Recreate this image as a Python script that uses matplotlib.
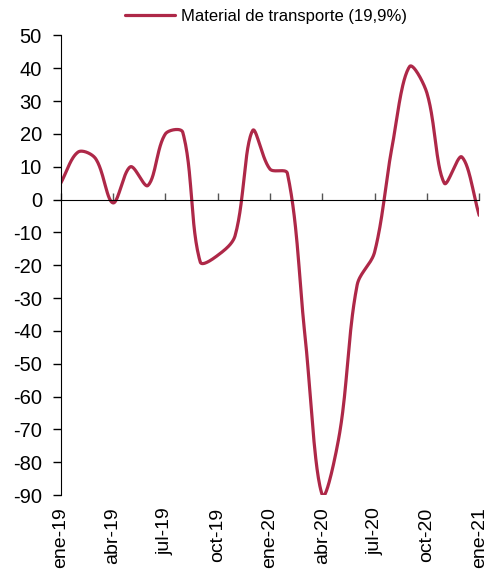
import numpy as np
import matplotlib
matplotlib.use('Agg')
import matplotlib.pyplot as plt

plt.rcParams['font.family'] = ['Liberation Sans', 'DejaVu Sans']
plt.rcParams['axes.unicode_minus'] = False

# monthly values, ene-19 .. ene-21
months = ['ene-19', 'feb-19', 'mar-19', 'abr-19', 'may-19', 'jun-19', 'jul-19',
          'ago-19', 'sep-19', 'oct-19', 'nov-19', 'dic-19', 'ene-20', 'feb-20',
          'mar-20', 'abr-20', 'may-20', 'jun-20', 'jul-20', 'ago-20', 'sep-20',
          'oct-20', 'nov-20', 'dic-20', 'ene-21']
values = [5, 14.5, 12.5, -1, 10, 4.3, 20, 20.5, -19, -17, -11, 21, 9.3, 8,
          -41, -90, -71, -26, -16, 16, 40.5, 32.5, 5, 13, -4.8]
tick_labels = ['ene-19', 'abr-19', 'jul-19', 'oct-19', 'ene-20',
               'abr-20', 'jul-20', 'oct-20', 'ene-21']
series_name = 'Material de transporte (19,9%)'
color = '#AE2848'


# smoothed line like Excel: bezier segments, tangents weighted by
# segment length measured on screen (sx, sy = pixels per unit)
def smooth(x, y, sx=17.42, sy=3.29, n=30):
    P = np.column_stack([np.asarray(x, float) * sx, np.asarray(y, float) * sy])
    P = np.vstack([P[0], P, P[-1]])
    out = []
    t = np.linspace(0, 1, n)[:, None]
    for i in range(1, len(P) - 2):
        p0, p1, p2, p3 = P[i - 1], P[i], P[i + 1], P[i + 2]
        d01 = np.hypot(*(p1 - p0))
        d12 = np.hypot(*(p2 - p1))
        d23 = np.hypot(*(p3 - p2))
        f1 = d12 / (d01 + d12) / 3 if d01 + d12 > 0 else 0
        f2 = d12 / (d12 + d23) / 3 if d12 + d23 > 0 else 0
        c1 = p1 + (p2 - p0) * f1
        c2 = p2 - (p3 - p1) * f2
        b = (1 - t) ** 3 * p1 + 3 * (1 - t) ** 2 * t * c1 + 3 * (1 - t) * t ** 2 * c2 + t ** 3 * p2
        out.append(b)
    out = np.vstack(out)
    return out[:, 0] / sx, out[:, 1] / sy


x = np.arange(len(months))
lx, ly = smooth(x, values)

fig = plt.figure(figsize=(4.88, 5.77), dpi=100)
ax = fig.add_axes([0.1244, 0.1421, 0.8576, 0.7964])

ax.plot(lx, ly, color=color, lw=2.3, label=series_name, solid_capstyle='round')

ax.set_xlim(0, len(months) - 1)
ax.set_ylim(-90, 50)
ax.set_yticks(np.arange(-90, 51, 10))
ax.tick_params(axis='y', direction='out', length=6, width=1, labelsize=14.5, pad=7.5)

ax.spines['top'].set_visible(False)
ax.spines['right'].set_visible(False)
ax.spines['bottom'].set_position(('data', 0))
ax.set_xticks(np.arange(0, len(months), 3))
ax.tick_params(axis='x', direction='in', length=5, width=1, labelbottom=False,
               color='#555555')

sec = ax.secondary_xaxis('bottom')
sec.set_xticks(np.arange(0, len(months), 3))
sec.set_xticklabels(tick_labels, rotation=90)
sec.tick_params(length=0, labelsize=14, pad=9)
sec.spines['bottom'].set_visible(False)

fig.legend(loc='upper center', bbox_to_anchor=(0.545, 1.01), frameon=False,
           fontsize=12, handlelength=3.0, handletextpad=0.4)

fig.savefig('out.png', dpi=100)
